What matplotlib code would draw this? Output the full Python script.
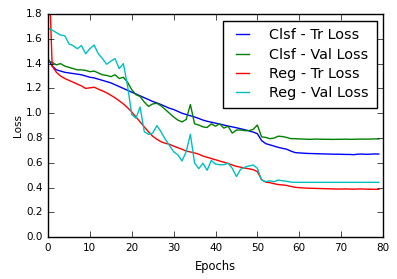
import numpy as np
import matplotlib
matplotlib.use('Agg')
import matplotlib.pyplot as plt

plt.style.use('classic')

epochs = list(range(80))

clsf_tr = [1.44, 1.38, 1.35, 1.34, 1.33, 1.325, 1.32, 1.315, 1.31, 1.30,
           1.29, 1.285, 1.275, 1.265, 1.255, 1.245, 1.23, 1.215, 1.20, 1.185,
           1.17, 1.155, 1.14, 1.125, 1.11, 1.095, 1.083, 1.07, 1.055, 1.04,
           1.03, 1.015, 1.0, 0.99, 0.98, 0.97, 0.958, 0.945, 0.935, 0.928,
           0.92, 0.913, 0.905, 0.897, 0.89, 0.883, 0.875, 0.867, 0.858, 0.848,
           0.835, 0.78, 0.755, 0.745, 0.735, 0.725, 0.717, 0.71, 0.695, 0.683,
           0.68, 0.678, 0.676, 0.675, 0.674, 0.673, 0.672, 0.671, 0.67, 0.67,
           0.669, 0.668, 0.668, 0.666, 0.67, 0.671, 0.669, 0.67, 0.672, 0.671]

clsf_val = [1.42, 1.41, 1.39, 1.40, 1.38, 1.37, 1.36, 1.35, 1.35, 1.345,
            1.335, 1.34, 1.325, 1.31, 1.305, 1.295, 1.31, 1.28, 1.29, 1.25,
            1.19, 1.15, 1.135, 1.09, 1.055, 1.075, 1.08, 1.06, 1.03, 1.0,
            0.97, 0.945, 0.93, 0.95, 1.07, 0.915, 0.905, 0.89, 0.885, 0.915,
            0.895, 0.915, 0.88, 0.895, 0.84, 0.865, 0.865, 0.86, 0.86, 0.87,
            0.905, 0.81, 0.805, 0.795, 0.80, 0.815, 0.812, 0.805, 0.795, 0.795,
            0.793, 0.792, 0.79, 0.79, 0.792, 0.791, 0.79, 0.79, 0.789, 0.79,
            0.79, 0.791, 0.79, 0.79, 0.791, 0.792, 0.791, 0.792, 0.793, 0.793]

reg_tr = [2.35, 1.38, 1.33, 1.30, 1.28, 1.265, 1.25, 1.235, 1.22, 1.20,
          1.205, 1.21, 1.195, 1.18, 1.165, 1.145, 1.125, 1.10, 1.075, 1.045,
          1.01, 0.97, 0.93, 0.89, 0.85, 0.815, 0.79, 0.77, 0.758, 0.75,
          0.735, 0.722, 0.71, 0.695, 0.688, 0.68, 0.67, 0.655, 0.645, 0.635,
          0.625, 0.615, 0.605, 0.595, 0.583, 0.572, 0.565, 0.558, 0.552, 0.545,
          0.53, 0.465, 0.445, 0.44, 0.432, 0.425, 0.422, 0.418, 0.41, 0.403,
          0.40, 0.398, 0.396, 0.395, 0.394, 0.393, 0.392, 0.391, 0.39, 0.389,
          0.389, 0.39, 0.389, 0.388, 0.389, 0.39, 0.388, 0.387, 0.387, 0.387]

reg_val = [1.685, 1.67, 1.65, 1.63, 1.625, 1.56, 1.545, 1.52, 1.545, 1.48,
           1.52, 1.55, 1.48, 1.44, 1.395, 1.42, 1.44, 1.36, 1.40, 1.22,
           0.99, 0.96, 1.05, 0.85, 0.83, 0.84, 0.90, 0.85, 0.79, 0.74,
           0.69, 0.665, 0.615, 0.69, 0.83, 0.60, 0.553, 0.597, 0.54, 0.62,
           0.59, 0.585, 0.585, 0.597, 0.556, 0.49, 0.548, 0.565, 0.575, 0.583,
           0.556, 0.462, 0.449, 0.455, 0.448, 0.462, 0.455, 0.452, 0.445, 0.443,
           0.443, 0.443, 0.443, 0.443, 0.443, 0.443, 0.443, 0.443, 0.443, 0.443,
           0.443, 0.443, 0.443, 0.443, 0.443, 0.443, 0.443, 0.443, 0.443, 0.443]

fig = plt.figure(figsize=(3.97, 2.79), dpi=100, facecolor='white')
ax = fig.add_axes([48 / 397, 41.7 / 279, 335 / 397, 223.3 / 279])

ax.plot(epochs, clsf_tr, color='b', lw=1.0, label='Clsf - Tr Loss')
ax.plot(epochs, clsf_val, color='g', lw=1.0, label='Clsf - Val Loss')
ax.plot(epochs, reg_tr, color='r', lw=1.0, label='Reg - Tr Loss')
ax.plot(epochs, reg_val, color='c', lw=1.0, label='Reg - Val Loss')

ax.set_xlim(0, 80)
ax.set_ylim(0, 1.8)
ax.set_xticks(np.arange(0, 81, 10))
ax.set_yticks(np.arange(0, 1.81, 0.2))
ax.tick_params(labelsize=7.5, length=4)
ax.set_xlabel('Epochs', fontsize=8.3)
ax.set_ylabel('Loss', fontsize=7.5, labelpad=2)

ax.legend(loc='upper right', fontsize=10.4, handlelength=1.55, handletextpad=1.05,
          labelspacing=0.36, borderpad=0.55, borderaxespad=0.45)

fig.savefig('out.png', dpi=100, facecolor='white')
